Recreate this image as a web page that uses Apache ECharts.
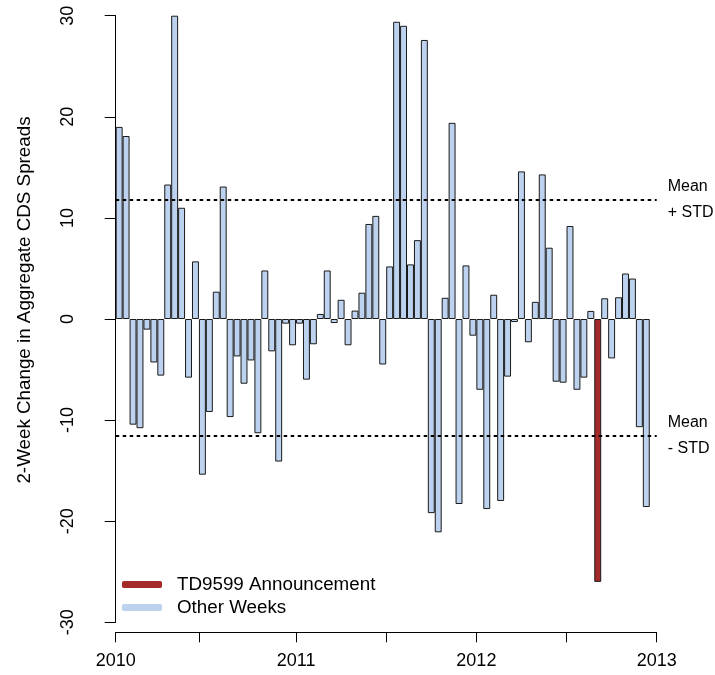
<!DOCTYPE html>
<html>
<head>
<meta charset="utf-8">
<title>2-Week Change in Aggregate CDS Spreads</title>
<script src="https://cdn.jsdelivr.net/npm/echarts@6/dist/echarts.min.js"></script>
<style>
  html, body { margin: 0; padding: 0; background: #ffffff; }
  #chart { width: 715px; height: 675px; }
</style>
</head>
<body>
<div id="chart"></div>
<script>
// Two-week changes in aggregate CDS spreads, one value per two-week period
const changes2010 = [19.0, 18.1, -10.45, -10.8, -1.05, -4.3, -5.6, 13.3, 30.0, 11.0, -5.8, 5.7, -15.4,
                     -9.2, 2.7, 13.1, -9.7, -3.7, -6.4, -4.1, -11.3, 4.8, -3.2, -14.1, -0.46, -2.6];
const changes2011 = [-0.46, -6.0, -2.5, 0.5, 4.8, -0.4, 1.9, -2.6, 0.83, 2.6, 9.4, 10.2, -4.5,
                     5.2, 29.4, 29.0, 5.4, 7.8, 27.6, -19.2, -21.1, 2.1, 19.4, -18.3, 5.3, -1.65];
const changes2012 = [-7.0, -18.8, 2.4, -18.0, -5.7, -0.3, 14.6, -2.3, 1.7, 14.3, 7.05, -6.2, -6.3,
                     9.2, -7.0, -5.8, 0.8, -26.0, 2.05, -3.9, 2.15, 4.5, 4.0, -10.7, -18.6];

// Period (within 2012) of the TD9599 announcement
const announcementPeriod2012 = 17;

// Band lines: mean plus / minus one standard deviation
const meanPlusStd = 11.8;
const meanMinusStd = -11.55;

// Axis ticks
const yearLabels = ['2010', '2011', '2012', '2013'];
const periodsPerYear = 26;
const halfYearTicks = [12, 39, 65];   // period positions of the mid-year ticks
const yTicks = { min: -30, max: 30, step: 10 };

const seriesNames = ['TD9599 Announcement', 'Other Weeks'];
const colors = { announcement: '#A52A2A', other: '#BCD2EE', border: '#1a1a1a' };

// ---- build data: one category slot per two-week period ----
const allChanges = changes2010.concat(changes2011, changes2012);
const announcementIndex = changes2010.length + changes2011.length + announcementPeriod2012;
const slotCount = (yearLabels.length - 1) * periodsPerYear;
const periods = [];
const otherData = [];
const announceData = [];
for (let i = 0; i < slotCount; i++) {
  periods.push('P' + (i + 1));
  const v = i < allChanges.length ? allChanges[i] : '-';
  otherData.push(i === announcementIndex ? '-' : v);
  announceData.push(i === announcementIndex ? v : '-');
}

const yearTickPositions = yearLabels.map((_, i) => i * periodsPerYear);
const allTickPositions = yearTickPositions.concat(halfYearTicks).sort((a, b) => a - b);

const FONT = '"Liberation Sans", Arial, Helvetica, sans-serif';

// plot area and the width of one period slot, so adjacent bars touch
const CHART_W = 715;
const GRID = { left: 115.7, right: 58.3, top: 15.7, bottom: 52.7 };
const slotWidth = (CHART_W - GRID.left - GRID.right) / slotCount;

const chart = echarts.init(document.getElementById('chart'), null, { renderer: 'canvas' });

chart.setOption({
  animation: false,
  backgroundColor: '#ffffff',
  textStyle: { fontFamily: FONT, color: '#000' },
  grid: GRID,
  xAxis: [
    {
      // period slots carrying the bars
      type: 'category',
      data: periods,
      boundaryGap: true,
      show: false
    },
    {
      // calendar scale in periods, for the ticks and year labels
      type: 'value',
      position: 'bottom',
      min: 0,
      max: slotCount,
      offset: 10,
      axisLine: { show: true, onZero: false, lineStyle: { color: '#000', width: 1 } },
      axisTick: { show: true, length: 10, customValues: allTickPositions, lineStyle: { color: '#000', width: 1 } },
      axisLabel: {
        customValues: yearTickPositions,
        formatter: v => yearLabels[Math.round(v / periodsPerYear)],
        fontSize: 18, fontFamily: FONT, color: '#000', margin: 20
      },
      splitLine: { show: false }
    }
  ],
  yAxis: {
    type: 'value',
    min: yTicks.min,
    max: yTicks.max,
    interval: yTicks.step,
    offset: 21,
    axisLine: { show: true, lineStyle: { color: '#000', width: 1 } },
    axisTick: { show: true, length: 11, lineStyle: { color: '#000', width: 1 } },
    axisLabel: { rotate: 90, fontSize: 18, fontFamily: FONT, color: '#000', margin: 18 },
    splitLine: { show: false }
  },
  legend: {
    orient: 'vertical',
    left: 122,
    top: 575,
    padding: 0,
    itemGap: 4,
    itemWidth: 40,
    itemHeight: 7,
    icon: 'roundRect',
    selectedMode: false,
    textStyle: { fontSize: 18.8, fontFamily: FONT, color: '#000', padding: [0, 0, 0, 10] },
    data: [
      { name: seriesNames[0], itemStyle: { color: colors.announcement, borderWidth: 0 } },
      { name: seriesNames[1], itemStyle: { color: colors.other, borderWidth: 0 } }
    ]
  },
  graphic: [{
    type: 'text',
    x: 25,
    y: 300,
    rotation: Math.PI / 2,
    style: {
      text: '2-Week Change in Aggregate CDS Spreads',
      font: '18.8px ' + FONT,
      fill: '#000',
      textAlign: 'center',
      textVerticalAlign: 'middle'
    }
  }],
  series: [
    {
      name: seriesNames[1],
      type: 'bar',
      xAxisIndex: 0,
      data: otherData,
      barWidth: slotWidth,
      barGap: '-100%',
      itemStyle: { color: colors.other, borderColor: colors.border, borderWidth: 1 },
      markLine: {
        silent: true,
        symbol: 'none',
        lineStyle: { color: '#000', type: [3.5, 3.5], width: 2 },
        label: {
          position: 'end',
          distance: 11,
          fontSize: 16,
          lineHeight: 26,
          fontFamily: FONT,
          color: '#000'
        },
        data: [
          { yAxis: meanPlusStd, label: { formatter: 'Mean\n+ STD' } },
          { yAxis: meanMinusStd, label: { formatter: 'Mean\n- STD' } }
        ]
      }
    },
    {
      name: seriesNames[0],
      type: 'bar',
      xAxisIndex: 0,
      data: announceData,
      barWidth: slotWidth,
      barGap: '-100%',
      itemStyle: { color: colors.announcement, borderColor: colors.border, borderWidth: 1 }
    }
  ]
});
</script>
</body>
</html>
